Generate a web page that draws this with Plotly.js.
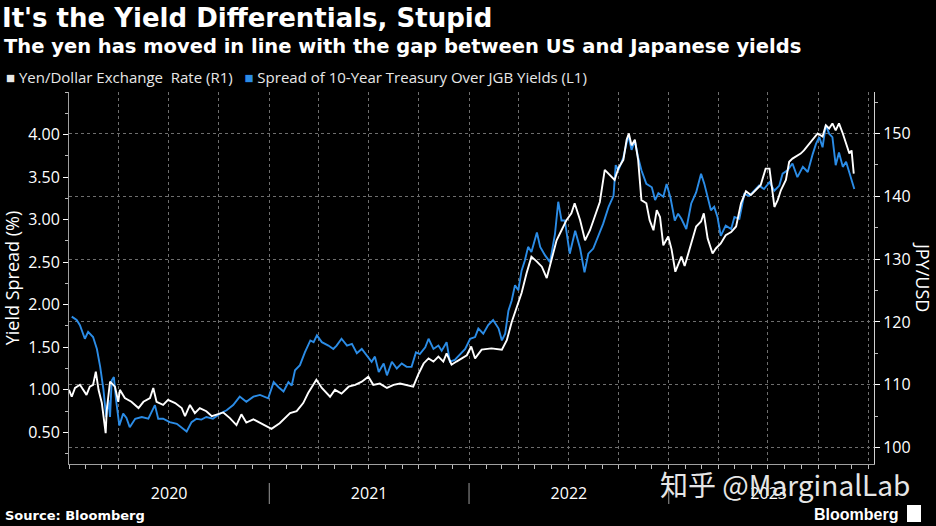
<!DOCTYPE html>
<html>
<head>
<meta charset="utf-8">
<script src="https://cdn.plot.ly/plotly-3.0.1.min.js"></script>
<style>
  html, body { margin:0; padding:0; background:#000; }
  #chart { width:936px; height:526px; }
</style>
</head>
<body>
<div id="chart"></div>
<script>
// ---- Data ----
const spreadDates = [
 '2020-01-06','2020-01-15','2020-01-21','2020-01-30','2020-02-05','2020-02-14','2020-02-21','2020-02-27',
 '2020-03-04','2020-03-09','2020-03-13','2020-03-16','2020-03-19','2020-03-23','2020-03-27','2020-04-02',
 '2020-04-09','2020-04-15','2020-04-21','2020-05-01','2020-05-13','2020-05-25','2020-06-06','2020-06-12',
 '2020-06-21','2020-07-03','2020-07-16','2020-07-25','2020-08-03','2020-08-12','2020-08-21','2020-08-30',
 '2020-09-08','2020-09-20','2020-10-03','2020-10-15','2020-10-27','2020-11-08','2020-11-20','2020-12-03',
 '2020-12-15','2020-12-30','2021-01-09','2021-01-18','2021-01-27','2021-02-05','2021-02-11','2021-02-17',
 '2021-02-26','2021-03-07','2021-03-17','2021-03-23','2021-03-29','2021-04-07','2021-04-19','2021-04-28',
 '2021-05-04','2021-05-13','2021-05-23','2021-06-01','2021-06-10','2021-06-19','2021-06-28','2021-07-07',
 '2021-07-13','2021-07-20','2021-07-29','2021-08-04','2021-08-13','2021-08-22','2021-08-31','2021-09-09',
 '2021-09-18','2021-09-26','2021-10-03','2021-10-13','2021-10-19','2021-10-28','2021-11-06','2021-11-12',
 '2021-11-21','2021-11-27','2021-12-06','2021-12-15','2021-12-25','2022-01-03','2022-01-12','2022-01-18',
 '2022-01-27','2022-02-05','2022-02-14','2022-02-24','2022-03-02','2022-03-08','2022-03-14','2022-03-20',
 '2022-03-26','2022-04-01','2022-04-07','2022-04-13','2022-04-19','2022-04-25','2022-05-05','2022-05-11',
 '2022-05-20','2022-05-29','2022-06-07','2022-06-13','2022-06-19','2022-06-25','2022-07-04','2022-07-14',
 '2022-07-23','2022-07-31','2022-08-07','2022-08-16','2022-08-25','2022-09-03','2022-09-13','2022-09-22',
 '2022-09-26','2022-10-01','2022-10-10','2022-10-19','2022-10-25','2022-10-31','2022-11-06','2022-11-12',
 '2022-11-21','2022-12-01','2022-12-07','2022-12-13','2022-12-22','2022-12-28','2023-01-04','2023-01-12',
 '2023-01-18','2023-01-24','2023-02-02','2023-02-11','2023-02-20','2023-03-01','2023-03-07','2023-03-13',
 '2023-03-19','2023-03-25','2023-03-31','2023-04-06','2023-04-15','2023-04-25','2023-05-01','2023-05-10',
 '2023-05-19','2023-05-28','2023-06-06','2023-06-15','2023-06-24','2023-07-04','2023-07-13','2023-07-22',
 '2023-07-28','2023-08-06','2023-08-15','2023-08-24','2023-09-03','2023-09-12','2023-09-21','2023-09-27',
 '2023-10-03','2023-10-09','2023-10-15','2023-10-21','2023-10-27','2023-11-02','2023-11-08','2023-11-15',
 '2023-11-21','2023-11-27','2023-12-03','2023-12-06'
];
const spreadValues = [
 1.86,1.82,1.76,1.60,1.68,1.62,1.48,1.27,
 1.00,0.68,0.88,0.68,1.11,1.15,0.88,0.58,
 0.72,0.67,0.56,0.66,0.68,0.66,0.82,0.66,
 0.66,0.62,0.60,0.56,0.51,0.62,0.66,0.65,
 0.68,0.66,0.72,0.76,0.82,0.92,0.86,0.92,
 0.94,0.90,1.09,1.03,0.98,1.09,1.05,1.23,
 1.29,1.44,1.58,1.56,1.64,1.56,1.52,1.48,
 1.52,1.60,1.52,1.54,1.43,1.48,1.41,1.33,
 1.39,1.21,1.31,1.17,1.33,1.25,1.31,1.27,
 1.27,1.44,1.42,1.50,1.60,1.48,1.52,1.46,
 1.56,1.33,1.35,1.41,1.48,1.60,1.62,1.72,
 1.66,1.76,1.82,1.72,1.58,1.66,1.93,2.05,
 2.23,2.17,2.40,2.52,2.68,2.62,2.85,2.68,
 2.58,2.50,2.83,3.21,2.99,2.99,2.60,2.87,
 2.66,2.38,2.60,2.66,2.81,2.95,3.15,3.28,
 3.64,3.58,3.73,3.99,3.82,3.93,3.73,3.58,
 3.42,3.38,3.23,3.31,3.27,3.42,3.26,2.99,
 3.07,3.01,2.89,3.19,3.32,3.54,3.42,3.26,
 3.11,3.15,3.03,2.81,2.93,2.89,3.03,3.01,
 3.30,3.28,3.34,3.40,3.36,3.44,3.34,3.40,
 3.54,3.58,3.66,3.50,3.62,3.56,3.77,3.89,
 3.97,3.85,4.11,4.01,3.97,3.64,3.79,3.62,
 3.68,3.56,3.44,3.36
];
const yenDates = [
 '2020-01-01','2020-01-06','2020-01-12','2020-01-21','2020-02-02','2020-02-08','2020-02-14','2020-02-19',
 '2020-02-24','2020-03-01','2020-03-08','2020-03-10','2020-03-16','2020-03-25','2020-03-31','2020-04-03',
 '2020-04-12','2020-04-24','2020-05-07','2020-05-16','2020-05-28','2020-06-03','2020-06-09','2020-06-21',
 '2020-06-30','2020-07-13','2020-07-25','2020-07-31','2020-08-09','2020-08-18','2020-08-27','2020-09-08',
 '2020-09-18','2020-09-27','2020-10-09','2020-10-21','2020-11-02','2020-11-11','2020-11-20','2020-12-03',
 '2020-12-15','2020-12-27','2021-01-05','2021-01-20','2021-02-08','2021-02-20','2021-03-04','2021-03-13',
 '2021-03-28','2021-04-07','2021-04-22','2021-05-01','2021-05-13','2021-05-26','2021-06-07','2021-06-19',
 '2021-07-01','2021-07-10','2021-07-22','2021-08-04','2021-08-16','2021-08-28','2021-09-09','2021-09-21',
 '2021-10-01','2021-10-10','2021-10-19','2021-10-28','2021-11-06','2021-11-15','2021-11-21','2021-11-30',
 '2021-12-09','2021-12-19','2021-12-28','2022-01-05','2022-01-12','2022-01-24','2022-02-11','2022-03-02',
 '2022-03-11','2022-03-20','2022-03-29','2022-04-07','2022-04-16','2022-04-25','2022-05-05','2022-05-14',
 '2022-05-23','2022-06-01','2022-06-10','2022-06-19','2022-06-28','2022-07-07','2022-07-13','2022-07-23',
 '2022-08-01','2022-08-10','2022-08-19','2022-08-28','2022-09-06','2022-09-15','2022-09-24','2022-10-01',
 '2022-10-10','2022-10-16','2022-10-20','2022-10-25','2022-10-31','2022-11-06','2022-11-12','2022-11-21',
 '2022-11-27','2022-12-04','2022-12-10','2022-12-16','2022-12-22','2022-12-31','2023-01-06','2023-01-13',
 '2023-01-24','2023-01-30','2023-02-06','2023-02-11','2023-02-20','2023-03-01','2023-03-06','2023-03-13',
 '2023-03-22','2023-03-28','2023-04-06','2023-04-15','2023-04-25','2023-05-04','2023-05-13','2023-05-22',
 '2023-05-31','2023-06-09','2023-06-18','2023-06-27','2023-07-04','2023-07-10','2023-07-13','2023-07-19',
 '2023-07-25','2023-08-03','2023-08-09','2023-08-15','2023-08-21','2023-08-30','2023-09-05','2023-09-15',
 '2023-09-24','2023-09-30','2023-10-09','2023-10-15','2023-10-21','2023-10-27','2023-11-02','2023-11-08',
 '2023-11-15','2023-11-21','2023-11-27','2023-12-01','2023-12-05'
];
const yenValues = [
 109.2,108.1,109.5,110.0,108.4,109.7,110.0,112.1,
 109.2,107.1,102.3,106.0,110.5,109.7,107.3,109.2,
 107.9,107.3,106.3,107.3,107.9,109.5,107.3,106.8,
 107.6,107.1,106.3,105.0,106.8,105.5,106.3,105.8,
 105.0,105.3,105.6,104.7,103.6,105.3,104.0,104.5,
 104.0,103.4,103.0,103.9,105.5,105.8,107.1,108.7,
 110.8,109.5,108.1,109.2,108.6,109.7,110.0,110.5,
 111.3,110.0,110.2,109.5,110.0,110.2,110.0,109.7,
 111.8,113.4,114.2,113.7,114.5,113.7,115.0,113.2,
 113.7,114.2,114.7,116.1,114.2,115.6,115.8,115.6,
 117.1,120.0,122.4,124.6,127.7,130.4,129.6,128.8,
 127.0,129.9,133.0,134.6,136.2,137.3,138.9,136.2,
 133.0,134.6,136.7,139.1,144.2,143.4,142.6,144.5,
 145.8,149.0,150.0,148.1,149.0,145.8,139.4,138.9,
 136.2,134.6,137.8,136.7,132.2,133.6,131.6,128.0,
 130.4,128.9,131.0,132.3,135.2,136.0,137.3,133.3,
 130.9,131.7,132.5,133.8,134.3,135.2,138.9,140.8,
 140.2,141.0,141.8,144.4,144.4,140.4,138.3,139.4,
 141.0,142.6,145.5,146.0,146.3,146.8,147.3,148.4,
 149.5,150.0,149.5,151.3,150.8,151.6,150.5,151.6,
 150.0,148.4,146.8,147.3,143.6
];
const spreadTickVals = [0.5,1.0,1.5,2.0,2.5,3.0,3.5,4.0];
const spreadTickText = ['0.50','1.00','1.50','2.00','2.50','3.00','3.50','4.00'];
const yenTickVals = [100,110,120,130,140,150];
const yearBreaks = ['2021-01-01','2022-01-01','2023-01-01'];

// ---- Geometry helpers (pixel -> paper) ----
const W = 936, H = 526, ML = 69, MR = 62, MT = 92, MB = 62;
const PW = W - ML - MR, PH = H - MT - MB;
const px = x => (x - ML) / PW;
const py = y => (H - MB - y) / PH;

const WHITE = '#ffffff';
const BLUE = '#2b8ce6';
const GRID = '#6e6e6e';
const TXT = 'Open Sans, Noto Sans, sans-serif';
const BOLD = 'DejaVu Sans, sans-serif';
const XRANGE = ['2020-01-01','2024-01-11'];

const traces = [
  { type:'scatter', mode:'lines', name:'Spread of 10-Year Treasury Over JGB Yields (L1)',
    x: spreadDates, y: spreadValues, xaxis:'x', yaxis:'y',
    line:{color:BLUE, width:1.9}, showlegend:false },
  { type:'scatter', mode:'lines', name:'Yen/Dollar Exchange Rate (R1)',
    x: yenDates, y: yenValues, xaxis:'x2', yaxis:'y2',
    line:{color:WHITE, width:1.9}, showlegend:false }
];

const shapes = yearBreaks.map(d => ({
  type:'line', xref:'x', yref:'paper', x0:d, x1:d, y0:py(483), y1:py(504),
  line:{color:'#9a9a9a', width:1}
}));
// Bloomberg logo block
shapes.push({type:'rect', xref:'paper', yref:'paper', x0:px(907), x1:px(921), y0:py(522), y1:py(505),
  fillcolor:'#ffffff', line:{width:0}});

const annotations = [
  { text:'<b>The yen has moved in line with the gap between US and Japanese yields</b>',
    xref:'paper', yref:'paper', x:px(2), y:py(46), xanchor:'left', yanchor:'middle', showarrow:false,
    font:{family:BOLD, size:19.5, color:WHITE} },
  { text:'■ Yen/Dollar Exchange  Rate (R1)   <span style="color:'+BLUE+'">■</span> Spread of 10-Year Treasury Over JGB Yields (L1)',
    xref:'paper', yref:'paper', x:px(4), y:py(77), xanchor:'left', yanchor:'middle', showarrow:false,
    font:{family:TXT, size:15, color:'#e8e8e8'} },
  { text:'JPY/USD', textangle:90,
    xref:'paper', yref:'paper', x:px(923), y:py(277), xanchor:'center', yanchor:'middle', showarrow:false,
    font:{family:TXT, size:18, color:WHITE} },
  { text:'<b>Source: Bloomberg</b>',
    xref:'paper', yref:'paper', x:px(3), y:py(515), xanchor:'left', yanchor:'middle', showarrow:false,
    font:{family:BOLD, size:13, color:WHITE} },
  { text:'<b>Bloomberg</b>',
    xref:'paper', yref:'paper', x:px(900), y:py(514), xanchor:'right', yanchor:'middle', showarrow:false,
    font:{family:'Liberation Sans, sans-serif', size:16, color:WHITE} },
  { text:'知乎 @MarginalLab',
    xref:'paper', yref:'paper', x:px(785), y:py(484), xanchor:'center', yanchor:'middle', showarrow:false,
    font:{family:'Noto Sans CJK SC, sans-serif', size:28, color:'#e6e6e6'} }
];

const layout = {
  width:W, height:H,
  margin:{l:ML, r:MR, t:MT, b:MB, pad:0},
  paper_bgcolor:'#000000', plot_bgcolor:'#000000',
  showlegend:false,
  title:{ text:"<b>It's the Yield Differentials, Stupid</b>", x:2/W, xanchor:'left',
          xref:'container', yref:'container', y:1-18/H, yanchor:'middle',
          font:{family:BOLD, size:26, color:WHITE} },
  xaxis:{
    type:'date', range:XRANGE,
    tickmode:'linear', tick0:'2020-01-01', dtick:'M12', ticklabelmode:'period', tickformat:'%Y',
    ticks:'outside', ticklen:4, tickcolor:'#bbbbbb',
    minor:{tickmode:'linear', tick0:'2020-01-01', dtick:'M1', ticks:'outside', ticklen:4, tickcolor:'#bbbbbb', showgrid:false},
    showgrid:false, showline:true, linecolor:'#a0a0a0', linewidth:1, zeroline:false,
    tickfont:{family:TXT, size:16, color:WHITE}, ticklabelstandoff:11
  },
  xaxis2:{
    type:'date', range:XRANGE, overlaying:'x', anchor:'y', side:'bottom',
    tickmode:'linear', tick0:'2020-01-01', dtick:'M3',
    showgrid:true, gridcolor:GRID, griddash:'dot', gridwidth:1,
    showticklabels:false, ticks:'', showline:false, zeroline:false
  },
  yaxis:{
    range:[0.128, 4.5], tickmode:'array', tickvals:spreadTickVals, ticktext:spreadTickText,
    ticks:'outside', ticklen:5, tickcolor:WHITE,
    minor:{tickmode:'linear', tick0:0, dtick:0.25, ticks:'outside', ticklen:3, tickcolor:'#bbbbbb', showgrid:false},
    showgrid:false, showline:true, linecolor:'#a0a0a0', linewidth:1, zeroline:false,
    tickfont:{family:TXT, size:16, color:WHITE},
    title:{text:'Yield Spread (%)', font:{family:TXT, size:18, color:WHITE}, standoff:4}
  },
  yaxis2:{
    range:[97.4, 156.6], overlaying:'y', side:'right', anchor:'x',
    tickmode:'array', tickvals:yenTickVals,
    ticks:'outside', ticklen:5, tickcolor:WHITE,
    minor:{tickmode:'linear', tick0:100, dtick:5, ticks:'outside', ticklen:3, tickcolor:'#bbbbbb', showgrid:false},
    showgrid:true, gridcolor:GRID, griddash:'dot', gridwidth:1,
    showline:true, linecolor:'#d0d0d0', linewidth:1, zeroline:false,
    tickfont:{family:TXT, size:16, color:WHITE}
  },
  shapes:shapes,
  annotations:annotations
};

Plotly.newPlot('chart', traces, layout, {staticPlot:true, displayModeBar:false});
</script>
</body>
</html>
